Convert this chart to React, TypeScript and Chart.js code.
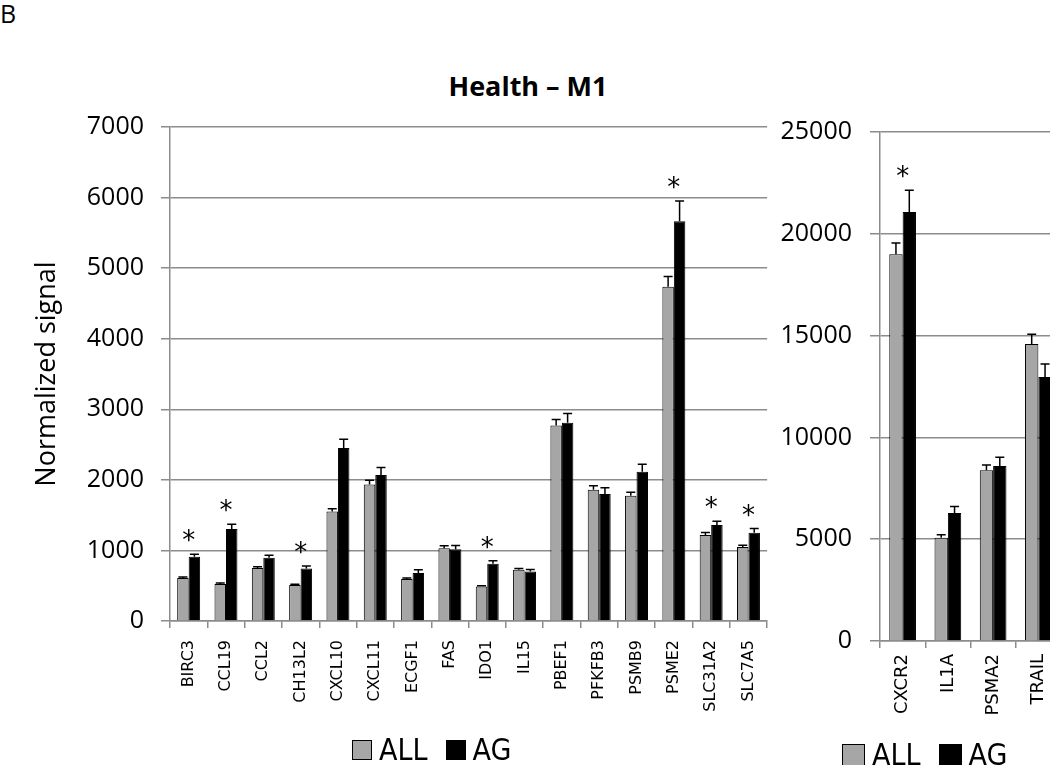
import React, { useEffect, useRef } from "react";
import { Chart, registerables } from "chart.js";

Chart.register(...registerables);

// ---------- data ----------
const leftCategories = ["BIRC3", "CCL19", "CCL2", "CH13L2", "CXCL10", "CXCL11", "ECGF1", "FAS", "IDO1", "IL15", "PBEF1", "PFKFB3", "PSMB9", "PSME2", "SLC31A2", "SLC7A5"];
const leftAll = [610, 525, 750, 510, 1550, 1935, 595, 1030, 490, 725, 2770, 1860, 1775, 4735, 1220, 1050];
const leftAllErr = [15, 15, 20, 10, 40, 60, 15, 35, 10, 20, 85, 55, 50, 145, 35, 25];
const leftAg = [910, 1305, 895, 745, 2450, 2070, 680, 1015, 810, 700, 2810, 1800, 2115, 5665, 1360, 1250];
const leftAgErr = [35, 65, 35, 33, 125, 105, 45, 55, 45, 28, 130, 88, 105, 285, 52, 60];
const leftStars = [true, true, false, true, false, false, false, false, true, false, false, false, false, true, true, true];
const leftTicks = [0, 1000, 2000, 3000, 4000, 5000, 6000, 7000];

const rightCategories = ["CXCR2", "IL1A", "PSMA2", "TRAIL"];
const rightAll = [19000, 5070, 8390, 14590];
const rightAllErr = [550, 150, 250, 480];
const rightAg = [21070, 6290, 8590, 12970];
const rightAgErr = [1070, 320, 430, 630];
const rightStars = [true, false, false, false];
const rightTicks = [0, 5000, 10000, 15000, 20000, 25000];

const seriesNames = ["ALL", "AG"];
const seriesColors = ["#a6a6a6", "#000000"];

const GRID = "#8c8c8c";
const TICK_FONT = "'Open Sans', sans-serif";
const XLABEL_FONT = "'DejaVu Sans', Verdana, sans-serif";
const LEGEND_FONT = "'Liberation Sans Narrow', 'DejaVu Sans Condensed', sans-serif";

const errorBarPlugin = {
  id: "errorBars",
  afterDatasetsDraw(chart: any, _args: any, opts: any) {
    const { ctx } = chart;
    const yScale = chart.scales.y;
    const xScale = chart.scales.x;
    const tops: number[] = [];
    ctx.save();
    ctx.strokeStyle = "#000";
    ctx.lineWidth = 1.5;
    chart.data.datasets.forEach((ds: any, di: number) => {
      const meta = chart.getDatasetMeta(di);
      meta.data.forEach((bar: any, i: number) => {
        const v = ds.data[i];
        const e = ds.errors[i];
        const x = bar.x;
        const y0 = yScale.getPixelForValue(v);
        const y1 = yScale.getPixelForValue(v + e);
        ctx.beginPath();
        ctx.moveTo(x, y0);
        ctx.lineTo(x, y1);
        ctx.moveTo(x - opts.cap, y1);
        ctx.lineTo(x + opts.cap, y1);
        ctx.stroke();
        tops[i] = tops[i] === undefined ? y1 : Math.min(tops[i], y1);
      });
    });
    ctx.fillStyle = "#000";
    ctx.font = opts.starFont;
    ctx.textAlign = "center";
    ctx.textBaseline = "alphabetic";
    (opts.stars as boolean[]).forEach((s, i) => {
      if (!s) return;
      const x = xScale.getPixelForValue(i);
      ctx.fillText("*", x, tops[i] - opts.starOffset);
    });
    ctx.restore();
  },
};

function makeConfig(p: {
  categories: string[];
  all: number[];
  allErr: number[];
  ag: number[];
  agErr: number[];
  stars: boolean[];
  ticks: number[];
  yWidth: number;
  xHeight: number;
  padTop: number;
  padRight: number;
  catPct: number;
  tickLen: number;
  tickPad: number;
  xFontSize: number;
  xPad: number;
  yTitle?: string;
}) {
  const max = p.ticks[p.ticks.length - 1];
  const step = p.ticks[1] - p.ticks[0];
  return {
    type: "bar",
    data: {
      labels: p.categories,
      datasets: [
        { label: seriesNames[0], data: p.all, errors: p.allErr, backgroundColor: seriesColors[0], borderColor: "#000", borderWidth: 1, borderSkipped: "bottom" },
        { label: seriesNames[1], data: p.ag, errors: p.agErr, backgroundColor: seriesColors[1], borderColor: "#000", borderWidth: 1, borderSkipped: "bottom" },
      ],
    },
    options: {
      responsive: false,
      animation: false,
      events: [],
      layout: { padding: { top: p.padTop, right: p.padRight, left: 0, bottom: 0 } },
      datasets: { bar: { barPercentage: 1, categoryPercentage: p.catPct } },
      plugins: {
        legend: { display: false },
        title: { display: false },
        tooltip: { enabled: false },
        errorBars: { cap: 4.5, stars: p.stars, starFont: "26px 'DejaVu Sans', sans-serif", starOffset: 5 },
      },
      scales: {
        x: {
          grid: { display: true, drawOnChartArea: false, drawTicks: true, tickLength: 7, color: GRID, lineWidth: 1.5, offset: true },
          border: { display: true, color: GRID, width: 1.5 },
          ticks: { minRotation: 90, maxRotation: 90, autoSkip: false, color: "#000", font: { family: XLABEL_FONT, size: p.xFontSize }, padding: p.xPad },
          afterFit: (s: any) => { s.height = p.xHeight; },
        },
        y: {
          min: 0,
          max,
          grid: { color: GRID, lineWidth: 1.5, tickLength: p.tickLen, drawTicks: true },
          border: { display: true, color: GRID, width: 1.5 },
          ticks: { stepSize: step, color: "#000", padding: p.tickPad, font: { family: TICK_FONT, size: 25 }, callback: (v: any) => String(v) },
          title: p.yTitle
            ? { display: true, text: p.yTitle, color: "#000", font: { family: TICK_FONT, size: 27 }, padding: { top: 31, bottom: 0 } }
            : { display: false },
          afterFit: (s: any) => { s.width = p.yWidth; },
        },
      },
    },
    plugins: [errorBarPlugin],
  } as any;
}

function Legend({ left, top, box }: { left: number; top: number; box: number }) {
  return (
    <div style={{ position: "absolute", left, top, display: "flex", alignItems: "center", fontFamily: LEGEND_FONT, fontSize: 30, lineHeight: "30px", color: "#000" }}>
      {seriesNames.map((n, i) => (
        <div key={n} style={{ display: "flex", alignItems: "center", marginRight: i === 0 ? 18 : 0 }}>
          <span style={{ display: "inline-block", width: box - 2, height: box - 2, background: seriesColors[i], border: "1px solid #000", marginRight: 7 }} />
          <span>{n}</span>
        </div>
      ))}
    </div>
  );
}

export default function App() {
  const leftRef = useRef<HTMLCanvasElement>(null);
  const rightRef = useRef<HTMLCanvasElement>(null);

  useEffect(() => {
    const c1 = new Chart(leftRef.current as HTMLCanvasElement, makeConfig({
      categories: leftCategories, all: leftAll, allErr: leftAllErr, ag: leftAg, agErr: leftAgErr, stars: leftStars, ticks: leftTicks,
      yWidth: 170, xHeight: 144, padTop: 127, padRight: 10, catPct: 0.615, tickLen: 9, tickPad: 17, xFontSize: 16, xPad: 12,
      yTitle: "Normalized signal",
    }));
    const c2 = new Chart(rightRef.current as HTMLCanvasElement, makeConfig({
      categories: rightCategories, all: rightAll, allErr: rightAllErr, ag: rightAg, agErr: rightAgErr, stars: rightStars, ticks: rightTicks,
      yWidth: 120, xHeight: 124, padTop: 132, padRight: 9, catPct: 0.59, tickLen: 10, tickPad: 18, xFontSize: 18, xPad: 6,
    }));
    return () => { c1.destroy(); c2.destroy(); };
  }, []);

  return (
    <div style={{ position: "fixed", left: 0, top: 0, width: 1050, height: 765, overflow: "hidden", background: "#fff" }}>
      <div style={{ position: "absolute", left: 0, top: -1, fontFamily: TICK_FONT, fontSize: 25, lineHeight: "28px", color: "#000" }}>B</div>
      <div style={{ position: "absolute", left: 428, width: 200, top: 70, textAlign: "center", fontFamily: TICK_FONT, fontWeight: 700, fontSize: 27, lineHeight: "32px", color: "#000", whiteSpace: "nowrap" }}>Health – M1</div>
      <canvas ref={leftRef} width={780} height={765} style={{ position: "absolute", left: 0, top: 0 }} />
      <canvas ref={rightRef} width={310} height={765} style={{ position: "absolute", left: 760, top: 0 }} />
      <Legend left={352} top={735} box={20} />
      <Legend left={842} top={740} box={23} />
    </div>
  );
}
